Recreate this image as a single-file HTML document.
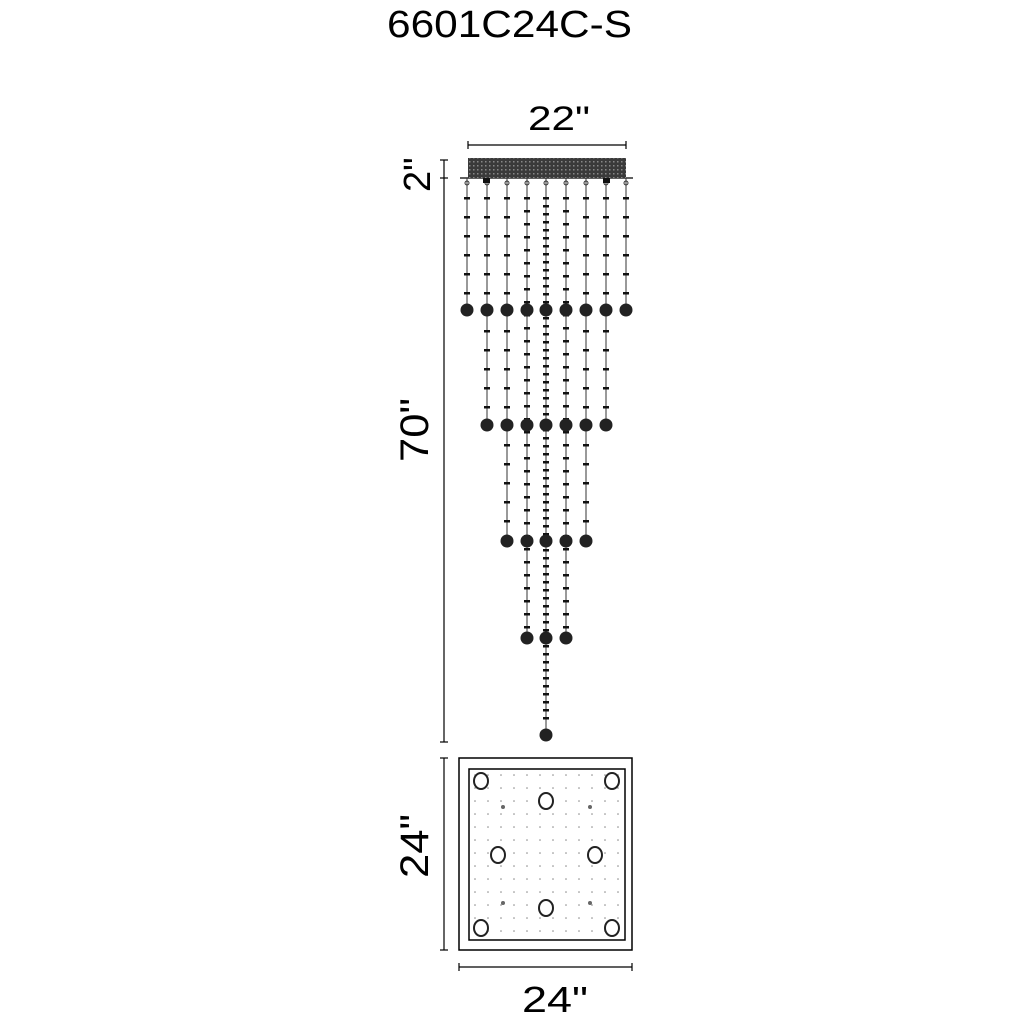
<!DOCTYPE html>
<html><head><meta charset="utf-8"><style>
html,body{margin:0;padding:0;background:#fff;}
svg{display:block}
text{font-family:"Liberation Sans",Arial,sans-serif;fill:#000}
</style></head><body>
<svg id="s" width="1024" height="1024" viewBox="0 0 1024 1024" xmlns="http://www.w3.org/2000/svg">
<defs><pattern id="m" width="4" height="4" patternUnits="userSpaceOnUse"><rect width="4" height="4" fill="#3a3a3a"/><rect x="1" y="1" width="1.5" height="1.5" fill="#888"/></pattern></defs>
<text x="387" y="37" font-size="38" textLength="245" lengthAdjust="spacingAndGlyphs">6601C24C-S</text>
<text x="528" y="130" font-size="34" textLength="62" lengthAdjust="spacingAndGlyphs">22"</text>
<text x="0" y="0" font-size="38" transform="translate(430,192) rotate(-90)">2"</text>
<text x="0" y="0" font-size="40" transform="translate(428,462) rotate(-90)" textLength="64" lengthAdjust="spacingAndGlyphs">70"</text>
<text x="0" y="0" font-size="40" transform="translate(428,878) rotate(-90)" textLength="64" lengthAdjust="spacingAndGlyphs">24"</text>
<text x="522" y="1012" font-size="36" textLength="66" lengthAdjust="spacingAndGlyphs">24"</text>
<g stroke="#000" stroke-width="1.2" fill="none">
<line x1="468" y1="145" x2="626" y2="145"/><line x1="468" y1="141" x2="468" y2="149"/><line x1="626" y1="141" x2="626" y2="149"/>
<line x1="444" y1="160" x2="444" y2="742"/><line x1="440" y1="160" x2="448" y2="160"/><line x1="440" y1="178" x2="448" y2="178"/><line x1="440" y1="742" x2="448" y2="742"/>
<line x1="444" y1="758" x2="444" y2="950"/><line x1="440" y1="758" x2="448" y2="758"/><line x1="440" y1="950" x2="448" y2="950"/>
<line x1="459" y1="967" x2="632" y2="967"/><line x1="459" y1="963" x2="459" y2="971"/><line x1="632" y1="963" x2="632" y2="971"/>
<line x1="460" y1="178" x2="633" y2="178"/>
<rect x="459" y="758" width="173" height="192" stroke-width="1.5"/>
<rect x="469" y="769" width="156" height="171" stroke-width="1.5"/>
</g>
<rect x="468" y="158" width="158" height="20" fill="url(#m)"/>
<g id="g"></g>
</svg>
<script>
var g=document.getElementById('g'),h='';
var xs=[467,487,507,527,546,566,586,606,626],ends=[310,425,541,638,735,638,541,425,310];
var rows=[310,425,541,638,735];
for(var i=0;i<9;i++){var x=xs[i],e=ends[i];
h+='<line x1="'+x+'" y1="178" x2="'+x+'" y2="'+e+'" stroke="#333" stroke-width="1"/>';
h+='<circle cx="'+x+'" cy="183" r="2" fill="none" stroke="#333"/>';
var step=(i==4)?8:(i==3||i==5)?13:19;
for(var y=197;y<e-10;y+=step){if(rows.indexOf(Math.round(y))>=0)continue;h+='<rect x="'+(x-3)+'" y="'+y+'" width="6" height="2.5" fill="#111"/>';}
for(var r=0;r<rows.length;r++){if(rows[r]<=e){h+='<circle cx="'+x+'" cy="'+rows[r]+'" r="6.5" fill="#222"/>';}}
}
h+='<rect x="483" y="178" width="7" height="5" fill="#111"/><rect x="603" y="178" width="7" height="5" fill="#111"/>';
for(var y=775;y<=935;y+=13){for(var x=475;x<=620;x+=13){h+='<circle cx="'+x+'" cy="'+y+'" r="0.8" fill="#888"/>';}}
var big=[[481,781],[612,781],[481,928],[612,928],[546,801],[498,855],[595,855],[546,908]];
big.forEach(function(p){h+='<ellipse cx="'+p[0]+'" cy="'+p[1]+'" rx="7" ry="8" fill="#fff" stroke="#222" stroke-width="2"/>';});
[[503,807],[590,807],[503,903],[590,903]].forEach(function(p){h+='<circle cx="'+p[0]+'" cy="'+p[1]+'" r="2" fill="#666"/>';});
g.innerHTML=h;
</script>
</body></html>
